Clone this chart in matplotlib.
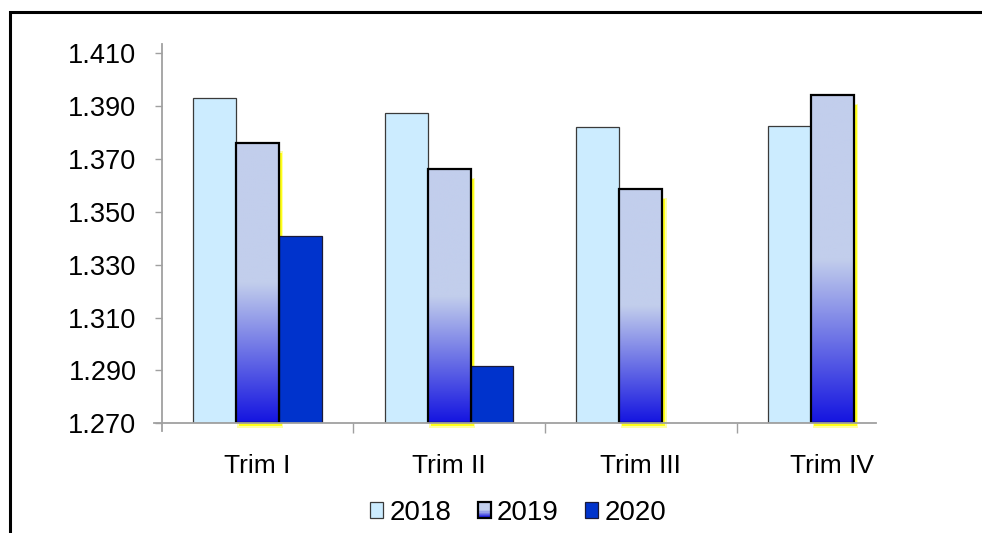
import numpy as np
import matplotlib
matplotlib.use('Agg')
import matplotlib.pyplot as plt
from matplotlib.patches import Rectangle
from matplotlib.colors import LinearSegmentedColormap
from matplotlib.legend_handler import HandlerBase

plt.rcParams['font.family'] = ['Liberation Sans', 'DejaVu Sans']

categories = ['Trim I', 'Trim II', 'Trim III', 'Trim IV']
series_names = ['2018', '2019', '2020']
values_2018 = [1.393, 1.3875, 1.382, 1.3825]
values_2019 = [1.376, 1.366, 1.3585, 1.394]
values_2020 = [1.341, 1.2915, np.nan, np.nan]
y_ticks = [1.270, 1.290, 1.310, 1.330, 1.350, 1.370, 1.390, 1.410]
y_labels = ['1.270', '1.290', '1.310', '1.330', '1.350', '1.370', '1.390', '1.410']

C2018 = '#CCECFF'
C2020 = '#0033CC'
GRAD_TOP = '#C2CEEC'
GRAD_BOT = '#1414E0'
AXIS_GREY = '#A0A0A0'
BASE = 1.270

# light in the upper half, fading to strong blue at the bottom
grad_cmap = LinearSegmentedColormap.from_list(
    'grad', [(0.0, GRAD_BOT), (0.5, GRAD_TOP), (1.0, GRAD_TOP)])


class HandlerGradient(HandlerBase):
    def create_artists(self, legend, orig_handle, xdescent, ydescent,
                       width, height, fontsize, trans):
        artists = []
        n = 12
        for k in range(n):
            t = (k + 0.5) / n
            artists.append(Rectangle((-xdescent, -ydescent + height * k / n), width, height / n + 0.3,
                                     facecolor=grad_cmap(t), edgecolor='none', transform=trans))
        artists.append(Rectangle((-xdescent, -ydescent), width, height, facecolor='none',
                                 edgecolor='black', linewidth=1.6, transform=trans))
        return artists


fig = plt.figure(figsize=(9.82, 5.33), dpi=100)
ax = fig.add_axes([161.5 / 982, 1 - 423.3 / 533, (876 - 161.5) / 982, (423.3 - 53) / 533])

x = np.arange(len(categories))
w = 0.224
px_x = 1 / 191.7        # data units per pixel, horizontally
px_y = 0.02 / 52.8      # data units per pixel, vertically

b18 = ax.bar(x - w, np.array(values_2018) - BASE, w, bottom=BASE, color=C2018,
             edgecolor='#3a3a3a', linewidth=0.9, zorder=3)

# soft yellow glow behind the 2019 bars
for xi, v in zip(x, values_2019):
    for grow, a in [(1.5, 0.35), (0, 0.85)]:
        ax.add_patch(Rectangle((xi - w / 2 + 3 * px_x - grow * px_x, BASE - (3 + grow) * px_y),
                               w + 2 * grow * px_x, v - BASE - 7 * px_y + 2 * grow * px_y,
                               facecolor='#FFFF00', edgecolor='none', alpha=a,
                               zorder=2, clip_on=False))

b19 = ax.bar(x, np.array(values_2019) - BASE, w, bottom=BASE, facecolor='none',
             edgecolor='black', linewidth=1.6, zorder=5)
grad = np.linspace(0, 1, 256).reshape(-1, 1)
for rect, v in zip(b19, values_2019):
    x0 = rect.get_x()
    im = ax.imshow(grad, cmap=grad_cmap, origin='lower', aspect='auto',
                   extent=[x0, x0 + w, BASE, v], zorder=4, interpolation='bilinear')
    im.set_clip_path(rect)

b20 = ax.bar(x + w, np.array(values_2020) - BASE, w, bottom=BASE, color=C2020,
             edgecolor='#1a1a3a', linewidth=0.9, zorder=3)

ax.set_xlim(-0.5, 3.227)
ax.set_ylim(1.270, 1.410)
ax.set_yticks(y_ticks)
ax.set_yticklabels(y_labels)
ax.set_xticks(x)
ax.set_xticklabels(categories)
ax.set_xticks([0.5, 1.5, 2.5], minor=True)

for s in ax.spines.values():
    s.set_visible(False)

ax.tick_params(axis='y', length=5, width=1, color=AXIS_GREY, direction='out',
               labelsize=19.5, pad=13)
ax.tick_params(axis='x', which='major', length=0, labelsize=19, pad=22)
ax.tick_params(axis='x', which='minor', length=7, width=1, color=AXIS_GREY, direction='out')
ax.set_facecolor('none')

# axis lines extending slightly past the plot area, as in the original
ax.plot([0, 0], [-0.022, 1.024], transform=ax.transAxes, color=AXIS_GREY, lw=1.3,
        clip_on=False, zorder=6)
ax.plot([-0.011, 1.0], [0, 0], transform=ax.transAxes, color=AXIS_GREY, lw=1.3,
        clip_on=False, zorder=6)

leg = fig.legend([b18[0], 'grad', b20[0]], series_names,
                 handler_map={str: HandlerGradient()},
                 loc='center', bbox_to_anchor=(518 / 982, 1 - 513 / 533), ncol=3,
                 frameon=False, fontsize=20, handlelength=0.47, handleheight=0.47,
                 handletextpad=0.22, columnspacing=0.95, borderaxespad=0)

# outer frame of the original chart object
fig.add_artist(Rectangle((10 / 982, -0.2), 1.2, 1.2 - 12 / 533, transform=fig.transFigure,
                         facecolor='none', edgecolor='black', linewidth=2.2))

fig.savefig('out.png', dpi=100, facecolor='white')
